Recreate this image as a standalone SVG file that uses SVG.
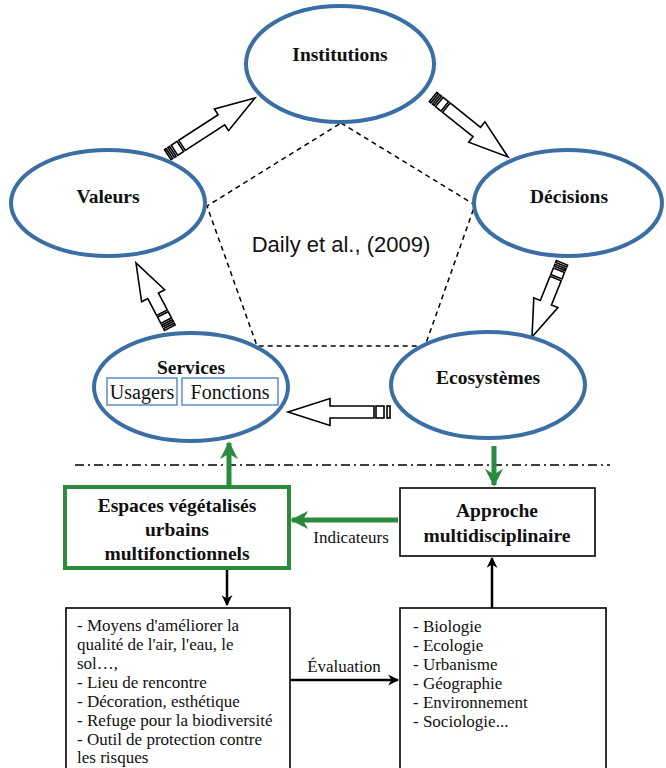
<svg xmlns="http://www.w3.org/2000/svg" width="666" height="768" viewBox="0 0 666 768">
<style>
.ell{fill:#fff;stroke:#3a6ea5;stroke-width:4}
.lbl{font-family:"Liberation Serif",serif;font-weight:bold;font-size:19.5px;fill:#111;text-anchor:middle}
.reg{font-family:"Liberation Serif",serif;font-size:17px;fill:#111}
.big{font-family:"Liberation Serif",serif;font-size:20px;fill:#111;text-anchor:middle}
.lst{font-family:"Liberation Serif",serif;font-size:17px;fill:#111}
.sub{fill:#fff;stroke:#5b8fc7;stroke-width:1.5}
.ha{fill:#fff;stroke:#000;stroke-width:1.6;stroke-linejoin:miter}
.grn{stroke:#2b8a3e;stroke-width:5;fill:none}
.blk{stroke:#000;stroke-width:2.5;fill:none}
.box{fill:#fff;stroke:#000;stroke-width:1.6}
</style>
<defs>
<marker id="gh" viewBox="0 0 10 10" refX="9" refY="5" markerWidth="3.6" markerHeight="4" orient="auto" markerUnits="strokeWidth"><path d="M0,0 L10,5 L0,10 L3,5 Z" fill="#2b8a3e"/></marker>
<marker id="bh" viewBox="0 0 10 10" refX="9" refY="5" markerWidth="4.4" markerHeight="4.4" orient="auto" markerUnits="strokeWidth"><path d="M0,0 L10,5 L0,10 L3,5 Z" fill="#000"/></marker>
</defs>

<g id="pentagon">
<polygon points="341,123 475,205 425,346 257,346 207,206" fill="none" stroke="#000" stroke-width="1.5" stroke-dasharray="5 4"/>
<text x="341" y="252" font-family="Liberation Sans,sans-serif" font-size="22" fill="#111" text-anchor="middle">Daily et al., (2009)</text>
</g>

<g id="connectors">
<g transform="translate(255,98) rotate(-33)">
<path class="ha" d="M0,0 L-40,-13 L-40,-6 L-87,-6 L-87,6 L-40,6 L-40,13 Z"/>
<rect class="ha" x="-96" y="-6" width="7" height="12"/><rect class="ha" x="-100" y="-6" width="2" height="12"/><rect class="ha" x="-104" y="-6" width="2" height="12"/>
</g>
<g transform="translate(508,157) rotate(38.7)">
<path class="ha" d="M0,0 L-40,-13 L-40,-6 L-79,-6 L-79,6 L-40,6 L-40,13 Z"/>
<rect class="ha" x="-88" y="-6" width="7" height="12"/><rect class="ha" x="-92" y="-6" width="2" height="12"/><rect class="ha" x="-96" y="-6" width="2" height="12"/>
</g>
<g transform="translate(532,337) rotate(112)">
<path class="ha" d="M0,0 L-37,-13 L-37,-6 L-63,-6 L-63,6 L-37,6 L-37,13 Z"/>
<rect class="ha" x="-72" y="-6" width="7" height="12"/><rect class="ha" x="-76" y="-6" width="2" height="12"/><rect class="ha" x="-80" y="-6" width="2" height="12"/>
</g>
<g transform="translate(136,263) rotate(-117.6)">
<path class="ha" d="M0,0 L-37,-13 L-37,-6 L-56,-6 L-56,6 L-37,6 L-37,13 Z"/>
<rect class="ha" x="-65" y="-6" width="7" height="12"/><rect class="ha" x="-69" y="-6" width="2" height="12"/><rect class="ha" x="-73" y="-6" width="2" height="12"/>
</g>
<g transform="translate(288,412) rotate(180)">
<path class="ha" d="M0,0 L-42,-13.5 L-42,-6 L-86,-6 L-86,6 L-42,6 L-42,13.5 Z"/>
<rect class="ha" x="-96" y="-6" width="8" height="12"/><rect class="ha" x="-102" y="-6" width="3" height="12"/>
</g>
<line x1="75" y1="465" x2="610" y2="465" stroke="#000" stroke-width="1.5" stroke-dasharray="9 4 2 4"/>
<line class="grn" x1="229" y1="486" x2="229" y2="443" marker-end="url(#gh)"/>
<line class="grn" x1="494" y1="446" x2="494" y2="485" marker-end="url(#gh)"/>
<line class="grn" x1="398" y1="520" x2="292" y2="520" marker-end="url(#gh)"/>
<text class="reg" x="351" y="543" text-anchor="middle">Indicateurs</text>
<line class="blk" x1="227" y1="570" x2="227" y2="605" marker-end="url(#bh)"/>
<line class="blk" x1="492" y1="608" x2="492" y2="558" marker-end="url(#bh)"/>
<line class="blk" x1="290" y1="680" x2="398" y2="680" marker-end="url(#bh)"/>
<text class="reg" x="344" y="672" text-anchor="middle">Évaluation</text>
</g>

<g id="institutions">
<ellipse class="ell" cx="340" cy="64" rx="94" ry="58"/>
<text class="lbl" x="340" y="61">Institutions</text>
</g>
<g id="valeurs">
<ellipse class="ell" cx="108" cy="203" rx="97" ry="53"/>
<text class="lbl" x="108" y="203">Valeurs</text>
</g>
<g id="decisions">
<ellipse class="ell" cx="568" cy="203" rx="94" ry="53"/>
<text class="lbl" x="569" y="203">Décisions</text>
</g>
<g id="services">
<ellipse class="ell" cx="191" cy="387" rx="97" ry="54"/>
<text class="lbl" x="191" y="374">Services</text>
<rect class="sub" x="107" y="378" width="70" height="27"/>
<rect class="sub" x="182" y="378" width="96" height="27"/>
<text class="big" x="142" y="399">Usagers</text>
<text class="big" x="230" y="399">Fonctions</text>
</g>
<g id="ecosystemes">
<ellipse class="ell" cx="488" cy="385" rx="97" ry="53"/>
<text class="lbl" x="488" y="384">Ecosystèmes</text>
</g>

<g id="espaces">
<rect x="65" y="487" width="224" height="81" fill="#fff" stroke="#2b8a3e" stroke-width="4"/>
<text class="lbl" x="177" y="512">Espaces végétalisés</text>
<text class="lbl" x="177" y="536">urbains</text>
<text class="lbl" x="177" y="560">multifonctionnels</text>
</g>
<g id="approche">
<rect class="box" x="400" y="488" width="195" height="68"/>
<text class="lbl" x="497" y="517">Approche</text>
<text class="lbl" x="497" y="542">multidisciplinaire</text>
</g>

<g id="fonctions-list">
<rect class="box" x="66" y="608" width="224" height="170"/>
<text class="lst">
<tspan x="77" y="631">- Moyens d'améliorer la</tspan>
<tspan x="77" y="650">qualité de l'air, l'eau, le</tspan>
<tspan x="77" y="669">sol…,</tspan>
<tspan x="77" y="688">- Lieu de rencontre</tspan>
<tspan x="77" y="707">- Décoration, esthétique</tspan>
<tspan x="77" y="726">- Refuge pour la biodiversité</tspan>
<tspan x="77" y="745">- Outil de protection contre</tspan>
<tspan x="77" y="763">les risques</tspan>
</text>
</g>
<g id="disciplines-list">
<rect class="box" x="400" y="608" width="206" height="170"/>
<text class="lst">
<tspan x="413" y="632">- Biologie</tspan>
<tspan x="413" y="651">- Ecologie</tspan>
<tspan x="413" y="670">- Urbanisme</tspan>
<tspan x="413" y="689">- Géographie</tspan>
<tspan x="413" y="708">- Environnement</tspan>
<tspan x="413" y="727">- Sociologie...</tspan>
</text>
</g>
</svg>
